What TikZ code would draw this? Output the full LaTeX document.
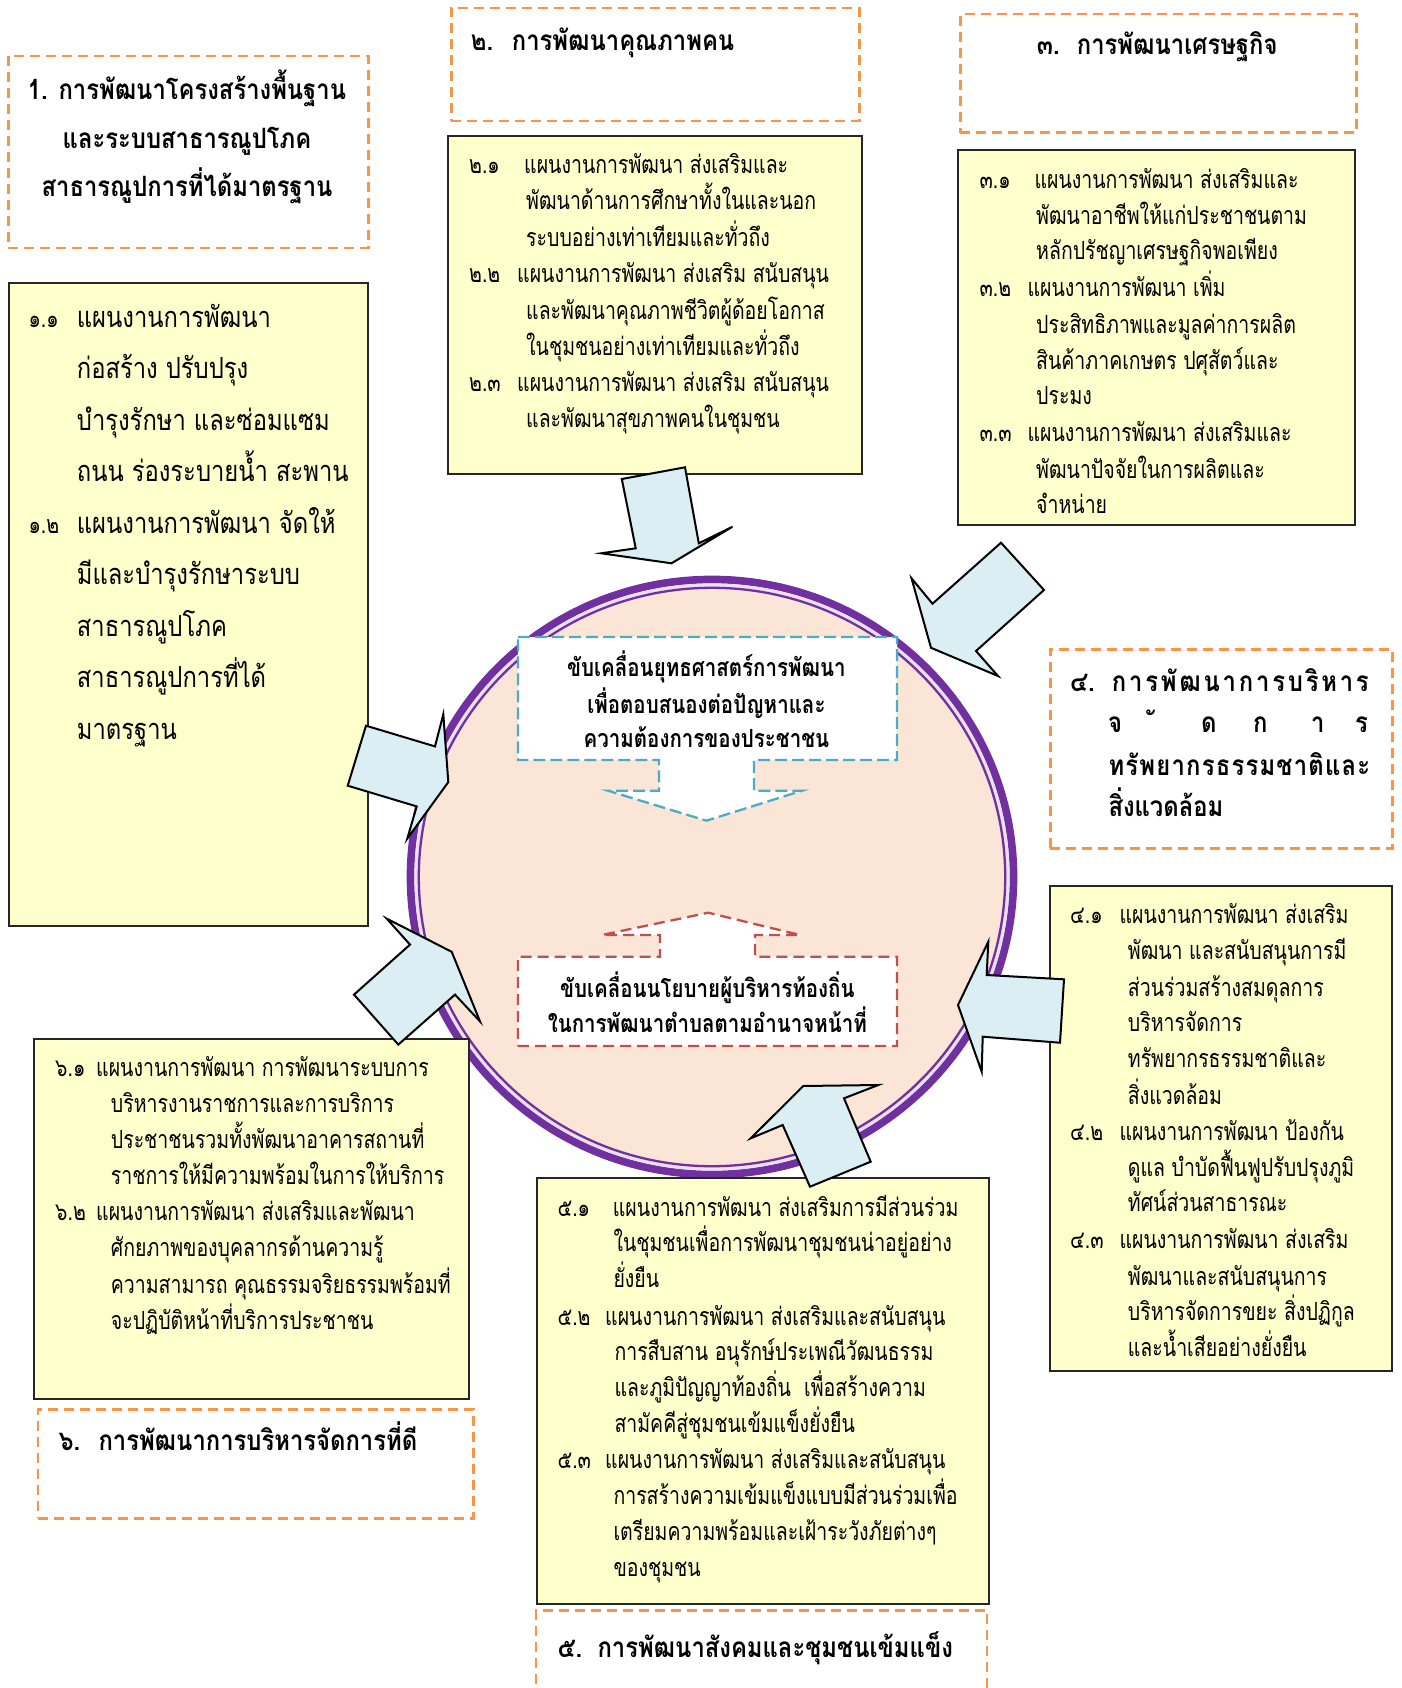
\documentclass[tikz,border=0pt]{standalone}
\usepackage{fontspec}
\setmainfont{Loma}[Script=Thai,FakeStretch=0.78]
\newfontfamily\tfont{Loma}[Script=Thai,FakeStretch=0.85]
\newfontfamily\cfont{Loma}[Script=Thai,FakeStretch=0.82]
\newfontfamily\bigfont{Loma}[Script=Thai,FakeStretch=0.82]
\newfontfamily\lsA{Loma}[Script=Thai,FakeStretch=0.85,LetterSpace=10]
\newfontfamily\lsB{Loma}[Script=Thai,FakeStretch=0.85,LetterSpace=4.4]
\definecolor{orgc}{HTML}{F79646}
\definecolor{ylw}{HTML}{FFFFCC}
\definecolor{arrc}{HTML}{DAEEF3}
\definecolor{purp}{HTML}{7030A0}
\definecolor{peach}{HTML}{FBE5D6}
\definecolor{bluec}{HTML}{4BACC6}
\definecolor{redc}{HTML}{C0504D}
\newcommand\bodysz{\fontsize{25}{30}\selectfont}
\newcommand\bigsz{\bigfont\fontsize{29}{34}\selectfont}
\newcommand\titlesz{\tfont\fontsize{28}{32}\selectfont\bfseries}
\tikzset{
  ttl/.style={draw=orgc, line width=2.5pt, dash pattern=on 10pt off 6pt, fill=white, anchor=north west, inner sep=0pt},
  ybox/.style={draw=black!85, line width=2pt, fill=ylw, anchor=north west, inner sep=0pt},
  barrow/.style={draw=black, line width=2pt, fill=arrc, line join=miter},
  tx/.style={anchor=base west, inner sep=0pt, font=\bodysz},
  bx/.style={anchor=base west, inner sep=0pt, font=\bigsz},
  tt/.style={anchor=base west, inner sep=0pt, font=\titlesz},
  ct/.style={anchor=base, inner sep=0pt, font=\cfont\fontsize{25}{30}\selectfont\bfseries},
}
\newcommand\boxat[5]{\node[#1, minimum width=#4pt, minimum height=#5pt] (#2) at (#3) {};}
\begin{document}
\begin{tikzpicture}[x=1pt,y=-1pt]
\useasboundingbox (0,0) rectangle (1401,1688);
% circle
\fill[peach] (712,877) ellipse [x radius=305pt, y radius=301pt];
\draw[purp, line width=7.7pt] (712,877) ellipse [x radius=301.5pt, y radius=297.5pt];
\draw[purp!15!white, line width=3.3pt] (712,877) ellipse [x radius=296pt, y radius=292pt];
\draw[purp, line width=2.3pt] (712,877) ellipse [x radius=293.2pt, y radius=289.2pt];
\coordinate (cc) at (712,877);
% title boxes
\boxat{ttl}{t1}{7,55}{360}{192}
\boxat{ttl}{t2}{450,7}{408}{113}
\boxat{ttl}{t3}{959,13}{396}{118.5}
\boxat{ttl}{t4}{1049,648}{342}{199}
\boxat{ttl}{t6}{36.7,1408}{435.6}{109}
\draw[orgc, line width=2.5pt, dash pattern=on 10pt off 6pt] (536,1700) -- (536,1610.7) -- (987,1610.7) -- (987,1700);
% content boxes
\boxat{ybox}{b1}{7.5,282}{359.5}{643}
\boxat{ybox}{b2}{447,135}{414}{338}
\boxat{ybox}{b3}{957,149}{397}{375}
\boxat{ybox}{b4}{1049,885}{341.7}{485}
\boxat{ybox}{b5}{536,1177.3}{452.3}{425.4}
\boxat{ybox}{b6}{33.3,1038.3}{435}{359.4}
% callouts
\draw[bluec, line width=2.3pt, dash pattern=on 12pt off 5pt, fill=white]
  (518,637) -- (897,637) -- (897,760) -- (754,760) -- (754,790.7) -- (802,790.7)
  -- (706.4,820.7) -- (608,790.7) -- (659,790.7) -- (659,760) -- (518,760) -- cycle;
\draw[redc, line width=2.3pt, dash pattern=on 11pt off 6pt, fill=white]
  (518,1046) -- (897,1046) -- (897,956.7) -- (755,956.7) -- (755,935) -- (800,935)
  -- (708.3,912.7) -- (602,935) -- (660,935) -- (660,956.7) -- (518,956.7) -- cycle;
% block arrows
\draw[barrow] (621.8,479) -- (685,467.3) -- (698.8,543.3) -- (732.5,526.7) -- (671.5,563.3) -- (601.2,553.3) -- (635.7,548.3) -- cycle;
\draw[barrow] (1001,542.7) -- (1044,590) -- (976,651) -- (998,676) -- (931,647.8) -- (911.5,578.3) -- (932.5,603.7) -- cycle;
\draw[barrow] (366,725.7) -- (435,746.4) -- (443.3,714.3) -- (448.3,782.1) -- (407.3,838.6) -- (416.7,806.4) -- (347.7,785.7) -- cycle;
\draw[barrow] (410,944.6) -- (386.7,918.6) -- (451.7,951.8) -- (480,1021.4) -- (455,994.6) -- (398.3,1044.6) -- (354,994.6) -- cycle;
\draw[barrow] (1064,979.3) -- (1060,1042.7) -- (982.7,1036.7) -- (981.7,1071.7) -- (958,1005) -- (988.3,941.7) -- (986.7,975) -- cycle;
\draw[barrow] (810,1186.7) -- (870.7,1161.7) -- (844,1098.3) -- (878.3,1085) -- (803.3,1086) -- (750.7,1138.3) -- (782.7,1125) -- cycle;
% centre texts
\node[ct] (c1) at (706.4,676) {ขับเคลื่อนยุทธศาสตร์การพัฒนา};
\node[ct] (c2) at (706.4,713.3) {เพื่อตอบสนองต่อปัญหาและ};
\node[ct] (c3) at (706.4,747.3) {ความต้องการของประชาชน};
\node[ct] (c4) at (707.3,997.3) {ขับเคลื่อนนโยบายผู้บริหารท้องถิ่น};
\node[ct] (c5) at (707.3,1032.7) {ในการพัฒนาตำบลตามอำนาจหน้าที่};
% title 1
\node[anchor=base, inner sep=0pt, font=\titlesz] (t1a) at (187,99.3) {1. การพัฒนาโครงสร้างพื้นฐาน};
\node[anchor=base, inner sep=0pt, font=\titlesz] (t1b) at (187,148.3) {และระบบสาธารณูปโภค};
\node[anchor=base, inner sep=0pt, font=\titlesz] (t1c) at (187,196.7) {สาธารณูปการที่ได้มาตรฐาน};
% title 2,3,5,6
\node[tt] (t2n) at (470.7,50.7) {๒.};
\node[tt] (t2a) at (511.7,50.7) {การพัฒนาคุณภาพคน};
\node[tt] (t3n) at (1036.7,55) {๓.};
\node[tt] (t3a) at (1076.7,55) {การพัฒนาเศรษฐกิจ};
\node[tt] (t5n) at (557.3,1657.3) {๕.};
\node[tt] (t5a) at (597.3,1657.3) {การพัฒนาสังคมและชุมชนเข้มแข็ง};
\node[tt] (t6n) at (58.3,1450.7) {๖.};
\node[tt] (t6a) at (98.3,1450.7) {การพัฒนาการบริหารจัดการที่ดี};
% title 4
\node[tt] (t4n) at (1070,691.7) {๔.};
\node[tt, font=\titlesz\lsA] (t4a) at (1111.7,691.7) {การพัฒนาการบริหาร};
\node[tt] (t4b1) at (1108,732.7) {จ};
\node[tt, anchor=base east] (t4b2) at (1155,732.7) {\char"00A0ั};
\node[tt] (t4b3) at (1201,732.7) {ด};
\node[tt] (t4b4) at (1253,732.7) {ก};
\node[tt] (t4b5) at (1311,732.7) {า};
\node[tt] (t4b6) at (1355,732.7) {ร};
\node[tt, font=\titlesz\lsB] (t4c) at (1108.3,775) {ทรัพยากรธรรมชาติและ};
\node[tt] (t4d) at (1108.3,816.7) {สิ่งแวดล้อม};
% box 1
\node[tx] (n11) at (28.3,327) {๑.๑};
\node[bx] (l11a) at (76.7,327) {แผนงานการพัฒนา};
\node[bx] (l11b) at (76.7,378.5) {ก่อสร้าง ปรับปรุง};
\node[bx] (l11c) at (76.7,430) {บำรุงรักษา และซ่อมแซม};
\node[bx] (l11d) at (76.7,481.5) {ถนน ร่องระบายน้ำ สะพาน};
\node[tx] (n12) at (28.3,533) {๑.๒};
\node[bx] (l12a) at (76.7,533) {แผนงานการพัฒนา จัดให้};
\node[bx] (l12b) at (76.7,584.5) {มีและบำรุงรักษาระบบ};
\node[bx] (l12c) at (76.7,636) {สาธารณูปโภค};
\node[bx] (l12d) at (76.7,687.5) {สาธารณูปการที่ได้};
\node[bx] (l12e) at (76.7,739) {มาตรฐาน};
% box 2
\node[tx] (n21) at (469,174) {๒.๑};
\node[tx] (l21a) at (524,174) {แผนงานการพัฒนา ส่งเสริมและ};
\node[tx] (l21b) at (526,210) {พัฒนาด้านการศึกษาทั้งในและนอก};
\node[tx] (l21c) at (526,246.7) {ระบบอย่างเท่าเทียมและทั่วถึง};
\node[tx] (n22) at (469,282.7) {๒.๒};
\node[tx] (l22a) at (517,282.7) {แผนงานการพัฒนา ส่งเสริม สนับสนุน};
\node[tx] (l22b) at (526,319.3) {และพัฒนาคุณภาพชีวิตผู้ด้อยโอกาส};
\node[tx] (l22c) at (526,355) {ในชุมชนอย่างเท่าเทียมและทั่วถึง};
\node[tx] (n23) at (469,391) {๒.๓};
\node[tx] (l23a) at (517,391) {แผนงานการพัฒนา ส่งเสริม สนับสนุน};
\node[tx] (l23b) at (526,427.3) {และพัฒนาสุขภาพคนในชุมชน};
% box 3
\node[tx] (n31) at (979.3,188.7) {๓.๑};
\node[tx] (l31a) at (1034.3,188.7) {แผนงานการพัฒนา ส่งเสริมและ};
\node[tx] (l31b) at (1036,224.5) {พัฒนาอาชีพให้แก่ประชาชนตาม};
\node[tx] (l31c) at (1036,260) {หลักปรัชญาเศรษฐกิจพอเพียง};
\node[tx] (n32) at (979.3,296.8) {๓.๒};
\node[tx] (l32a) at (1027.3,296.8) {แผนงานการพัฒนา เพิ่ม};
\node[tx] (l32b) at (1036,333.3) {ประสิทธิภาพและมูลค่าการผลิต};
\node[tx] (l32c) at (1036,369.1) {สินค้าภาคเกษตร ปศุสัตว์และ};
\node[tx] (l32d) at (1036,404.6) {ประมง};
\node[tx] (n33) at (979.3,441.5) {๓.๓};
\node[tx] (l33a) at (1027.3,441.5) {แผนงานการพัฒนา ส่งเสริมและ};
\node[tx] (l33b) at (1036,478) {พัฒนาปัจจัยในการผลิตและ};
\node[tx] (l33c) at (1036,513.8) {จำหน่าย};
% box 4
\node[tx] (n41) at (1070,923.3) {๔.๑};
\node[tx] (l41a) at (1119.3,923.3) {แผนงานการพัฒนา ส่งเสริม};
\node[tx] (l41b) at (1127.7,959.3) {พัฒนา และสนับสนุนการมี};
\node[tx] (l41c) at (1127.7,996) {ส่วนร่วมสร้างสมดุลการ};
\node[tx] (l41d) at (1127.7,1031.7) {บริหารจัดการ};
\node[tx] (l41e) at (1127.7,1067.7) {ทรัพยากรธรรมชาติและ};
\node[tx] (l41f) at (1127.7,1104) {สิ่งแวดล้อม};
\node[tx] (n42) at (1070,1140) {๔.๒};
\node[tx] (l42a) at (1119.3,1140) {แผนงานการพัฒนา ป้องกัน};
\node[tx] (l42b) at (1127.7,1176) {ดูแล บำบัดฟื้นฟูปรับปรุงภูมิ};
\node[tx] (l42c) at (1127.7,1211.7) {ทัศน์ส่วนสาธารณะ};
\node[tx] (n43) at (1070,1248.3) {๔.๓};
\node[tx] (l43a) at (1119.3,1248.3) {แผนงานการพัฒนา ส่งเสริม};
\node[tx] (l43b) at (1127.7,1285) {พัฒนาและสนับสนุนการ};
\node[tx] (l43c) at (1127.7,1320.7) {บริหารจัดการขยะ สิ่งปฏิกูล};
\node[tx] (l43d) at (1127.7,1356.7) {และน้ำเสียอย่างยั่งยืน};
% box 5
\node[tx] (n51) at (557.3,1216) {๕.๑};
\node[tx] (l51a) at (612.7,1216) {แผนงานการพัฒนา ส่งเสริมการมีส่วนร่วม};
\node[tx] (l51b) at (613.3,1251.7) {ในชุมชนเพื่อการพัฒนาชุมชนน่าอยู่อย่าง};
\node[tx] (l51c) at (613.3,1287.3) {ยั่งยืน};
\node[tx] (n52) at (557.3,1325) {๕.๒};
\node[tx] (l52a) at (605,1325) {แผนงานการพัฒนา ส่งเสริมและสนับสนุน};
\node[tx] (l52b) at (614.3,1360.7) {การสืบสาน อนุรักษ์ประเพณีวัฒนธรรม};
\node[tx] (l52c) at (614.3,1396.7) {และภูมิปัญญาท้องถิ่น\ \ เพื่อสร้างความ};
\node[tx] (l52d) at (614.3,1432.3) {สามัคคีสู่ชุมชนเข้มแข็งยั่งยืน};
\node[tx] (n53) at (557.3,1468.3) {๕.๓};
\node[tx] (l53a) at (605,1468.3) {แผนงานการพัฒนา ส่งเสริมและสนับสนุน};
\node[tx] (l53b) at (613.3,1504.3) {การสร้างความเข้มแข็งแบบมีส่วนร่วมเพื่อ};
\node[tx] (l53c) at (613.3,1540.7) {เตรียมความพร้อมและเฝ้าระวังภัยต่างๆ};
\node[tx] (l53d) at (613.3,1576.7) {ของชุมชน};
% box 6
\node[tx] (n61) at (55,1076.7) {๖.๑};
\node[tx] (l61a) at (96,1076.7) {แผนงานการพัฒนา การพัฒนาระบบการ};
\node[tx] (l61b) at (110.7,1112.7) {บริหารงานราชการและการบริการ};
\node[tx] (l61c) at (110.7,1148.3) {ประชาชนรวมทั้งพัฒนาอาคารสถานที่};
\node[tx] (l61d) at (110.7,1184) {ราชการให้มีความพร้อมในการให้บริการ};
\node[tx] (n62) at (55,1220.7) {๖.๒};
\node[tx] (l62a) at (96,1220.7) {แผนงานการพัฒนา ส่งเสริมและพัฒนา};
\node[tx] (l62b) at (110.7,1256.7) {ศักยภาพของบุคลากรด้านความรู้};
\node[tx] (l62c) at (110.7,1293.3) {ความสามารถ คุณธรรมจริยธรรมพร้อมที่};
\node[tx] (l62d) at (110.7,1329) {จะปฏิบัติหน้าที่บริการประชาชน};
\end{tikzpicture}
\end{document}
